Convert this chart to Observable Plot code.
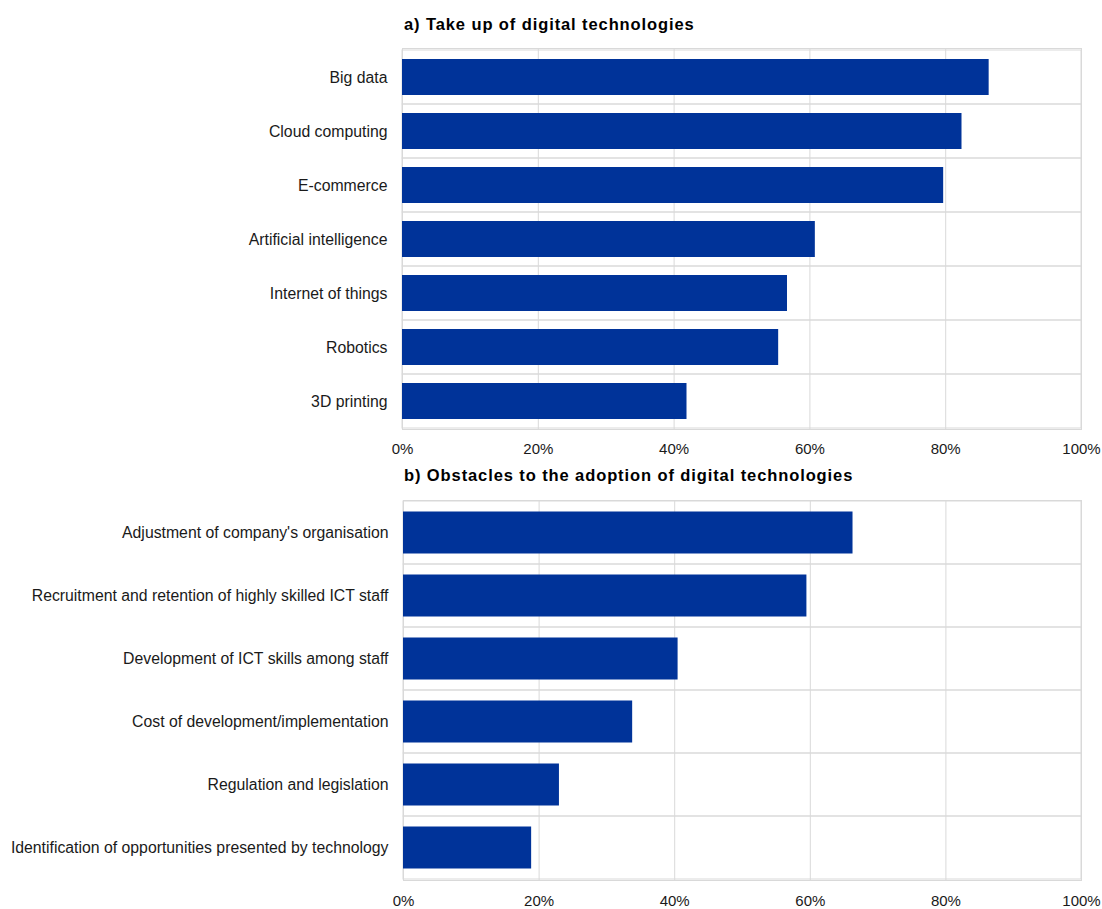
<!DOCTYPE html>
<html>
<head>
<meta charset="utf-8">
<script src="https://cdn.jsdelivr.net/npm/d3@7"></script>
<script src="https://cdn.jsdelivr.net/npm/@observablehq/plot@0.6"></script>
<style>
  html, body { margin: 0; padding: 0; background: #fff; }
  #root { position: relative; width: 1102px; height: 909px; font-family: "Liberation Sans", Arial, sans-serif; }
  .title { position: absolute; left: 404px; font-weight: bold; font-size: 16.5px; letter-spacing: 0.9px; line-height: 20px; color: #000; white-space: nowrap; }
  .chart { position: absolute; left: 0; }
</style>
</head>
<body>
<div id="root">
  <div class="title" id="titleA" style="top:14px">a) Take up of digital technologies</div>
  <div class="chart" id="chartA" style="top:40px"></div>
  <div class="title" id="titleB" style="top:465px">b) Obstacles to the adoption of digital technologies</div>
  <div class="chart" id="chartB" style="top:490px"></div>
</div>
<script>
const takeUpCategories = ["Big data", "Cloud computing", "E-commerce", "Artificial intelligence", "Internet of things", "Robotics", "3D printing"];
const takeUpValues = [86.4, 82.4, 79.7, 60.8, 56.7, 55.4, 41.9];

const obstacleCategories = [
  "Adjustment of company's organisation",
  "Recruitment and retention of highly skilled ICT staff",
  "Development of ICT skills among staff",
  "Cost of development/implementation",
  "Regulation and legislation",
  "Identification of opportunities presented by technology"
];
const obstacleValues = [66.3, 59.5, 40.5, 33.8, 23.0, 18.9];

const xTicks = [0, 20, 40, 60, 80, 100];

const barColor = "#003399";
const gridColor = "#d9d9d9";

function makeChart(categories, values, opts) {
  const data = categories.map((c, i) => ({category: c, value: values[i]}));
  return Plot.plot({
    width: 1102,
    height: opts.height,
    marginTop: opts.marginTop,
    marginBottom: opts.marginBottom,
    marginLeft: opts.marginLeft,
    marginRight: opts.marginRight,
    style: {fontFamily: "'Liberation Sans', Arial, sans-serif", fontSize: "15px", color: "#1a1a1a", background: "#fff"},
    x: {domain: [0, 100], label: null},
    y: {domain: categories, padding: 0, label: null},
    marks: [
      Plot.barX(categories, {x1: 0, x2: 100, y: d => d, fill: "none", stroke: gridColor, strokeWidth: 1}),
      Plot.ruleX(xTicks, {x: d => d, stroke: gridColor, strokeWidth: 1}),
      Plot.frame({stroke: gridColor, strokeWidth: 1}),
      Plot.barX(data, {x: "value", y: "category", fill: barColor, insetTop: opts.inset, insetBottom: opts.inset}),
      Plot.axisX({ticks: xTicks, tickFormat: d => d + "%", tickSize: 0, tickPadding: opts.xPad, fontSize: 15, label: null}),
      Plot.axisY({tickSize: 0, tickPadding: 15, fontSize: 15.8, label: null})
    ]
  });
}

document.getElementById("chartA").appendChild(makeChart(takeUpCategories, takeUpValues, {
  height: 420, marginTop: 8, marginBottom: 31, marginLeft: 402, marginRight: 21, inset: 9, xPad: 14
}));
document.getElementById("chartB").appendChild(makeChart(obstacleCategories, obstacleValues, {
  height: 419, marginTop: 10, marginBottom: 29, marginLeft: 403, marginRight: 21, inset: 10.5, xPad: 15
}));
</script>
</body>
</html>
